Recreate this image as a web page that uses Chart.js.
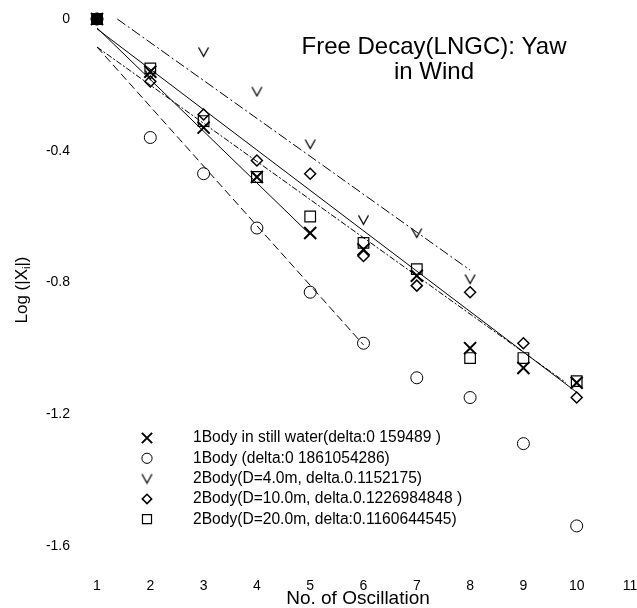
<!DOCTYPE html>
<html>
<head>
<meta charset="utf-8">
<script src="https://cdn.jsdelivr.net/npm/chart.js@4"></script>
<style>
  html, body { margin: 0; padding: 0; background: #fff; }
  canvas { display: block; }
</style>
</head>
<body>
<canvas id="decay" width="637" height="608"></canvas>
<script>
// oscillation numbers (x) for each measured series
const oscillations = [1, 2, 3, 4, 5, 6, 7, 8, 9, 10];
const oscillationsD4 = [1, 2, 3, 4, 5, 6, 7, 8];

// Log(|Xi|)
const oneBodyStill = [0, -0.16, -0.33, -0.48, -0.65, -0.70, -0.78, -1.00, -1.06, -1.105];
const oneBody = [0, -0.36, -0.47, -0.635, -0.83, -0.985, -1.09, -1.15, -1.29, -1.54];
const twoBodyD4 = [0, -0.17, -0.10, -0.22, -0.38, -0.61, -0.65, -0.79];
const twoBodyD10 = [0, -0.19, -0.29, -0.43, -0.47, -0.72, -0.81, -0.83, -0.985, -1.15];
const twoBodyD20 = [0, -0.15, -0.31, -0.48, -0.60, -0.68, -0.76, -1.03, -1.03, -1.10];

// fitted decay lines, [x, y] end points
const fitOneBodyStill = [[1, -0.027], [5, -0.655]];
const fitOneBody = [[1, -0.085], [6, -0.99]];
const fitD4 = [[1.38, 0], [8, -0.763]];
const fitD10 = [[1, -0.03], [10, -1.134]];
const fitD20 = [[1, -0.085], [9.8, -1.105]];

const xTicks = [1, 2, 3, 4, 5, 6, 7, 8, 9, 10, 11];
const yTicks = [0, -0.4, -0.8, -1.2, -1.6];

const legendLabels = [
    "1Body in still water(delta:0 159489 )",
    "1Body (delta:0 1861054286)",
    "2Body(D=4.0m, delta.0.1152175)",
    "2Body(D=10.0m, delta.0.1226984848 )",
    "2Body(D=20.0m, delta:0.1160644545)",
];

const FONT = "'Liberation Sans', Arial, sans-serif";
const clear = "rgba(0,0,0,0)";

function pts(xs, ys) {
    return xs.map((x, i) => ({ x: x, y: ys[i] }));
}
function seg(pairs) {
    return pairs.map((p) => ({ x: p[0], y: p[1] }));
}

// "V" marker
function makeVee() {
    const c = document.createElement("canvas");
    c.width = 13;
    c.height = 12;
    const g = c.getContext("2d");
    g.strokeStyle = "#000";
    g.lineWidth = 1.3;
    g.beginPath();
    g.moveTo(1.5, 1.5);
    g.lineTo(6.5, 10.5);
    g.lineTo(11.5, 1.5);
    g.stroke();
    return c;
}
const vee = makeVee();

function marker(label, data, style, radius, width) {
    return {
        type: "scatter",
        label: label,
        legendText: label,
        data: data,
        pointStyle: style,
        pointRadius: radius,
        pointHoverRadius: radius,
        pointBorderWidth: width,
        pointBorderColor: "#000",
        pointBackgroundColor: clear,
        showLine: false,
        clip: false,
    };
}

function fitLine(data, dash) {
    return {
        type: "line",
        data: data,
        borderColor: "#000",
        borderWidth: 1,
        borderDash: dash,
        pointRadius: 0,
        fill: false,
        tension: 0,
        clip: false,
    };
}

const squares = marker(legendLabels[4], pts(oscillations, twoBodyD20), "rect", 7.5, 1.2);
squares.pointBackgroundColor = (ctx) => (ctx.dataIndex === 0 ? "#000" : clear);

const datasets = [
    fitLine(seg(fitOneBodyStill), []),
    fitLine(seg(fitOneBody), [8, 4]),
    fitLine(seg(fitD4), [10, 3, 2, 3]),
    fitLine(seg(fitD10), []),
    fitLine(seg(fitD20), [6, 2, 2, 2]),
    marker(legendLabels[0], pts(oscillations, oneBodyStill), "crossRot", 8.5, 2),
    marker(legendLabels[1], pts(oscillations, oneBody), "circle", 6, 1),
    marker(legendLabels[2], pts(oscillationsD4, twoBodyD4), vee, 6, 1),
    marker(legendLabels[3], pts(oscillations, twoBodyD10), "rectRot", 5.5, 1.5),
    squares,
];

// titles, y label with subscript, inset legend
const decorations = {
    id: "decorations",
    afterDraw(chart) {
        const ctx = chart.ctx;
        ctx.save();
        ctx.fillStyle = "#000";
        ctx.textAlign = "center";
        ctx.textBaseline = "middle";

        ctx.font = "24px " + FONT;
        ctx.fillText("Free Decay(LNGC): Yaw", 434, 47);
        ctx.fillText("in Wind", 434, 72);

        ctx.font = "19px " + FONT;
        ctx.fillText("No. of Oscillation", 358, 599);

        // y axis title, rotated
        ctx.translate(22, 290);
        ctx.rotate(-Math.PI / 2);
        ctx.textAlign = "left";
        const a = "Log (|X";
        const b = "i";
        const c = "|)";
        ctx.font = "17px " + FONT;
        const wa = ctx.measureText(a).width;
        const wc = ctx.measureText(c).width;
        ctx.font = "11px " + FONT;
        const wb = ctx.measureText(b).width;
        const start = -(wa + wb + wc) / 2;
        ctx.font = "17px " + FONT;
        ctx.fillText(a, start, 0);
        ctx.font = "11px " + FONT;
        ctx.fillText(b, start + wa, 5);
        ctx.font = "17px " + FONT;
        ctx.fillText(c, start + wa + wb, 0);
        ctx.restore();

        // legend
        ctx.save();
        const items = chart.data.datasets.filter((d) => d.legendText);
        items.forEach((ds, i) => {
            const y = 438 + i * 20.3;
            ctx.strokeStyle = "#000";
            ctx.fillStyle = clear;
            ctx.lineWidth = ds.pointBorderWidth;
            Chart.helpers.drawPoint(
                ctx,
                {
                    pointStyle: ds.pointStyle,
                    radius: ds.pointRadius * 0.85,
                    rotation: 0,
                    borderWidth: ds.pointBorderWidth,
                },
                147,
                y
            );
            ctx.fillStyle = "#000";
            ctx.font = "15.6px " + FONT;
            ctx.textAlign = "left";
            ctx.textBaseline = "middle";
            ctx.fillText(ds.legendText, 193, y);
        });
        ctx.restore();
    },
};

Chart.defaults.font.family = FONT;
Chart.defaults.color = "#000";

new Chart(document.getElementById("decay"), {
    type: "scatter",
    data: { datasets: datasets },
    options: {
        responsive: false,
        animation: false,
        devicePixelRatio: 1,
        layout: { autoPadding: false, padding: { top: 19, right: 7, bottom: 0, left: 0 } },
        plugins: {
            legend: { display: false },
            tooltip: { enabled: false },
        },
        scales: {
            x: {
                type: "linear",
                min: 1,
                max: 11,
                grid: { display: false, drawTicks: false },
                border: { display: false },
                ticks: { padding: 6, font: { size: 14 } },
                afterBuildTicks: (scale) => {
                    scale.ticks = xTicks.map((v) => ({ value: v }));
                },
                afterFit: (scale) => {
                    scale.height = 36;
                    scale.paddingLeft = 0;
                    scale.paddingRight = 0;
                    scale.paddingTop = 0;
                    scale.paddingBottom = 0;
                },
            },
            y: {
                type: "linear",
                min: -1.68,
                max: 0,
                grid: { display: false, drawTicks: false },
                border: { display: false },
                ticks: {
                    padding: 27,
                    font: { size: 14 },
                    callback: (v) => (v === 0 ? "0" : v.toFixed(1)),
                },
                afterBuildTicks: (scale) => {
                    scale.ticks = yTicks.map((v) => ({ value: v }));
                },
                afterFit: (scale) => {
                    scale.width = 97;
                    scale.paddingLeft = 0;
                    scale.paddingRight = 0;
                    scale.paddingTop = 0;
                    scale.paddingBottom = 0;
                },
            },
        },
    },
    plugins: [decorations],
});
</script>
</body>
</html>
